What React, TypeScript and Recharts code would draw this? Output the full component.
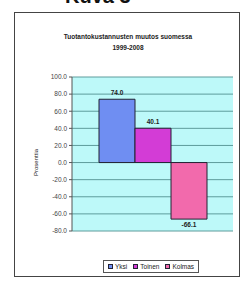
import { Bar, BarChart, CartesianGrid, LabelList, Legend, XAxis, YAxis } from "recharts";

const categories = ["1999-2008"];
const seriesNames = ["Yksi", "Toinen", "Kolmas"];
const seriesValues = [74.0, 40.1, -66.1];
const seriesColors = ["#6f8ef2", "#d33cd6", "#f26aac"];
const yTicks = [100, 80, 60, 40, 20, 0, -20, -40, -60, -80];

const data = categories.map((name) => {
  const row: Record<string, string | number> = { name };
  seriesNames.forEach((s, i) => {
    row[s] = seriesValues[i];
  });
  return row;
});

function BarValue(props: any) {
  const { x, y, width, height, value } = props;
  const neg = value < 0;
  const top = Math.min(y, y + height);
  const bottom = Math.max(y, y + height);
  return (
    <text
      x={x + width / 2}
      y={neg ? bottom + 8 : top - 4}
      textAnchor="middle"
      fontSize={6.5}
      fontWeight="bold"
      fill="#222"
    >
      {value.toFixed(1)}
    </text>
  );
}

function LegendBox({ payload }: any) {
  // keep the series order, Recharts sorts legend items by name
  const items = [...(payload ?? [])].sort(
    (a: any, b: any) => seriesNames.indexOf(a.value) - seriesNames.indexOf(b.value),
  );
  return (
    <div
      style={{
        display: "flex",
        gap: 6,
        border: "1px solid #555",
        padding: "2px 4px",
        fontSize: 6.5,
        fontFamily: "Arial, 'Liberation Sans', sans-serif",
        color: "#222",
        background: "#fff",
        width: "fit-content",
      }}
    >
      {items.map((p: any) => (
        <span key={p.value} style={{ display: "flex", alignItems: "center", gap: 2 }}>
          <span
            style={{
              width: 5,
              height: 5,
              background: p.color,
              border: "1px solid #223",
              boxSizing: "border-box",
            }}
          />
          {p.value}
        </span>
      ))}
    </div>
  );
}

export default function App() {
  return (
    <div
      style={{
        position: "relative",
        width: 248,
        height: 281,
        overflow: "hidden",
        background: "#fff",
        fontFamily: "Arial, 'Liberation Sans', sans-serif",
      }}
    >
      <style>{"body{margin:0}"}</style>
      <div
        style={{
          position: "absolute",
          left: 65,
          top: -15,
          fontSize: 20,
          fontWeight: "bold",
          color: "#111",
        }}
      >
        Kuva 3
      </div>
      <div
        style={{
          position: "absolute",
          left: 14,
          top: 12,
          width: 226,
          height: 265,
          border: "1px solid #444",
          boxSizing: "border-box",
        }}
      />
      <div
        style={{
          position: "absolute",
          left: 30,
          top: 31,
          width: 196,
          textAlign: "center",
          fontSize: 6.5,
          fontWeight: "bold",
          lineHeight: "11px",
          color: "#222",
        }}
      >
        Tuotantokustannusten muutos suomessa
        <br />
        1999-2008
      </div>
      <div style={{ position: "absolute", left: 0, top: 0 }}>
        <BarChart
          width={248}
          height={281}
          data={data}
          margin={{ top: 77, right: 15, bottom: 37, left: 30 }}
          barGap={0}
          barCategoryGap={27}
        >
          <CartesianGrid
            vertical={false}
            stroke="#5e9c9c"
            fill="#bdf9f9"
            fillOpacity={1}
          />
          <XAxis dataKey="name" hide />
          <YAxis
            width={42}
            domain={[-80, 100]}
            ticks={yTicks}
            interval={0}
            tickFormatter={(v: number) => v.toFixed(1)}
            tick={{ fontSize: 6.5, fill: "#444" }}
            tickSize={3}
            axisLine={{ stroke: "#555" }}
            tickLine={{ stroke: "#555" }}
            label={{
              value: "Prosenttia",
              angle: -90,
              position: "insideLeft",
              offset: 6,
              fontSize: 6,
              fill: "#222",
              dy: 22,
            }}
          />
          <Legend
            verticalAlign="bottom"
            content={<LegendBox />}
            wrapperStyle={{ left: 103, top: 260, width: "auto", bottom: "auto" }}
          />
          {seriesNames.map((s, i) => (
            <Bar
              key={s}
              dataKey={s}
              fill={seriesColors[i]}
              stroke="#223"
              strokeWidth={1}
              isAnimationActive={false}
            >
              <LabelList dataKey={s} content={<BarValue />} />
            </Bar>
          ))}
        </BarChart>
      </div>
    </div>
  );
}
